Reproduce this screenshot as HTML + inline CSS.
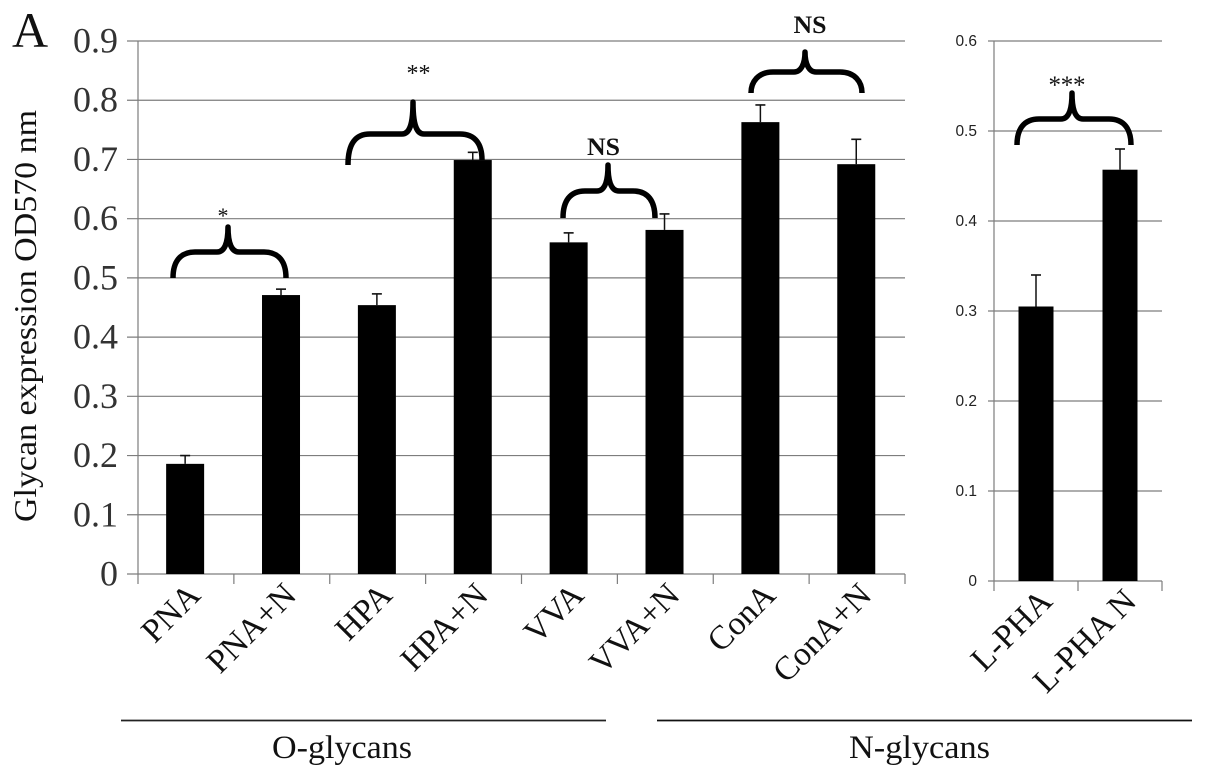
<!DOCTYPE html>
<html lang="en">
<head>
<meta charset="utf-8">
<title>Glycan expression chart</title>
<style>
html,body{margin:0;padding:0;background:#fff;width:1205px;height:777px;overflow:hidden}
svg{display:block}
text{font-family:"Liberation Serif",serif;fill:#111}
</style>
</head>
<body>
<svg id="chart" width="1205" height="777" viewBox="0 0 1205 777" xmlns="http://www.w3.org/2000/svg">
  <rect x="0" y="0" width="1205" height="777" fill="#fff"/>
  <text x="12" y="47" font-size="50">A</text>
  <text transform="translate(36,522) rotate(-90)" font-size="32" textLength="412" lengthAdjust="spacingAndGlyphs">Glycan expression OD570 nm</text>
  <g id="left-chart"></g>
  <g id="right-chart"></g>
  <g id="annotations"></g>
  <text x="223" y="223" font-size="22" text-anchor="middle">*</text>
  <text x="418.5" y="81" font-size="24" text-anchor="middle">**</text>
  <text x="603.5" y="155" font-size="25" font-weight="bold" text-anchor="middle" textLength="33" lengthAdjust="spacingAndGlyphs">NS</text>
  <text x="810" y="33" font-size="25" font-weight="bold" text-anchor="middle" textLength="33" lengthAdjust="spacingAndGlyphs">NS</text>
  <text x="1067" y="93" font-size="25" text-anchor="middle" textLength="37" lengthAdjust="spacing">***</text>
  <line x1="121" y1="720.5" x2="606" y2="720.5" stroke="#222" stroke-width="1.8"/>
  <line x1="657" y1="720.5" x2="1192" y2="720.5" stroke="#111" stroke-width="1.8"/>
  <text x="342" y="758" font-size="32.5" text-anchor="middle" textLength="140" lengthAdjust="spacingAndGlyphs">O-glycans</text>
  <text x="919.5" y="758" font-size="32.5" text-anchor="middle" textLength="141" lengthAdjust="spacingAndGlyphs">N-glycans</text>
</svg>
<script>
var leftCategories = ["PNA", "PNA+N", "HPA", "HPA+N", "VVA", "VVA+N", "ConA", "ConA+N"];
var leftValues = [0.186, 0.471, 0.454, 0.699, 0.56, 0.581, 0.763, 0.692];
var leftErrors = [0.014, 0.010, 0.019, 0.013, 0.016, 0.027, 0.029, 0.042];
var leftTicks = ["0", "0.1", "0.2", "0.3", "0.4", "0.5", "0.6", "0.7", "0.8", "0.9"];

var rightCategories = ["L-PHA", "L-PHA N"];
var rightValues = [0.305, 0.457];
var rightErrors = [0.035, 0.023];
var rightTicks = ["0", "0.1", "0.2", "0.3", "0.4", "0.5", "0.6"];

var SVGNS = "http://www.w3.org/2000/svg";

function make(parent, tag, attrs, txt) {
  var el = document.createElementNS(SVGNS, tag);
  for (var k in attrs) el.setAttribute(k, attrs[k]);
  if (txt !== undefined) el.textContent = txt;
  parent.appendChild(el);
  return el;
}

function drawChart(group, cfg) {
  var n = cfg.categories.length;
  var step = (cfg.x1 - cfg.x0) / n;
  var yMax = parseFloat(cfg.ticks[cfg.ticks.length - 1]);
  function sy(v) { return cfg.yBase - (v / yMax) * (cfg.yBase - cfg.yTop); }
  function sx(i) { return cfg.x0 + step * (i + 0.5) + cfg.barShift; }

  cfg.ticks.forEach(function (t) {
    var v = parseFloat(t);
    var y = sy(v);
    var grid = make(group, "line", {
      x1: cfg.x0 - cfg.tickOut, y1: y, x2: cfg.x1, y2: y,
      stroke: "#7d7d7d", "stroke-width": 1.2
    });
    
    
    var label = make(group, "text", {
      x: cfg.labelX, y: y + cfg.labelDy, "font-size": cfg.labelSize,
      "text-anchor": "end", style: cfg.labelStyle
    }, t);
    
    
  });

  var axis = make(group, "line", {
    x1: cfg.x0, y1: cfg.yTop, x2: cfg.x0, y2: cfg.yBase + 10,
    stroke: "#7d7d7d", "stroke-width": 1.2
  });
  
  

  for (var i = 1; i <= n; i++) {
    var tx = cfg.x0 + step * i;
    var tick = make(group, "line", {
      x1: tx, y1: cfg.yBase, x2: tx, y2: cfg.yBase + 10,
      stroke: "#7d7d7d", "stroke-width": 1.2
    });
    
    
  }

  cfg.values.forEach(function (v, i) {
    var cx = sx(i);
    var top = sy(v);
    var errTop = sy(v + cfg.errors[i]);
    var stem = make(group, "line", {
      x1: cx, y1: top, x2: cx, y2: errTop, stroke: "#111", "stroke-width": 1.5
    });
    
    
    var cap = make(group, "line", {
      x1: cx - 5, y1: errTop, x2: cx + 5, y2: errTop, stroke: "#111", "stroke-width": 1.6
    });
    
    
    var bar = make(group, "rect", {
      x: cx - cfg.barWidth / 2, y: top, width: cfg.barWidth, height: cfg.yBase - top, fill: "#000"
    });
    
    
    var ax = cx + cfg.catDx;
    var ay = cfg.yBase + cfg.catDy;
    var cat = make(group, "text", {
      x: 0, y: 0, "font-size": cfg.catSize, "text-anchor": "end",
      transform: "translate(" + ax + "," + ay + ") rotate(-45)"
    }, cfg.categories[i]);
    
    
  });
}

drawChart(document.getElementById("left-chart"), {
  categories: leftCategories, values: leftValues, errors: leftErrors, ticks: leftTicks,
  x0: 138, x1: 905, yTop: 41, yBase: 574, tickOut: 11, barShift: -0.8,
  labelX: 118, labelDy: 11.5, labelSize: 36, labelStyle: "fill:#333",
  barWidth: 38, catDx: 17, catDy: 23, catSize: 33.5
});

drawChart(document.getElementById("right-chart"), {
  categories: rightCategories, values: rightValues, errors: rightErrors, ticks: rightTicks,
  x0: 994, x1: 1162, yTop: 41, yBase: 581, tickOut: 6, barShift: 0,
  labelX: 977, labelDy: 5, labelSize: 15.5,
  labelStyle: "font-family:'Liberation Sans',sans-serif;fill:#222",
  barWidth: 35, catDx: 18, catDy: 22, catSize: 33.5
});

function brace(name, xL, xR, tipX, tipY, midY, botL, botR) {
  var r = 22;
  var d = "M" + xL + " " + botL +
    " C" + xL + " " + (midY + 10) + " " + (xL + 7) + " " + midY + " " + (xL + r) + " " + midY +
    " L" + (tipX - 11) + " " + midY +
    " C" + (tipX - 4) + " " + midY + " " + tipX + " " + (midY - 8) + " " + tipX + " " + tipY +
    " C" + tipX + " " + (midY - 8) + " " + (tipX + 4) + " " + midY + " " + (tipX + 11) + " " + midY +
    " L" + (xR - r) + " " + midY +
    " C" + (xR - 7) + " " + midY + " " + xR + " " + (midY + 10) + " " + xR + " " + botR;
  var p = make(document.getElementById("annotations"), "path", {
    d: d, fill: "none", stroke: "#000", "stroke-width": 5.5, "stroke-linejoin": "round"
  });
  
  
}

brace("brace-pna", 173, 286, 228, 227, 252, 278, 278);
brace("brace-hpa", 348, 482, 413, 102, 134, 165, 160);
brace("brace-vva", 563, 655, 608, 165, 191, 218, 218);
brace("brace-cona", 751, 862, 805, 52, 72, 93, 93);
brace("brace-lpha", 1017, 1131, 1072, 93, 119, 145, 145);
</script>
</body>
</html>
